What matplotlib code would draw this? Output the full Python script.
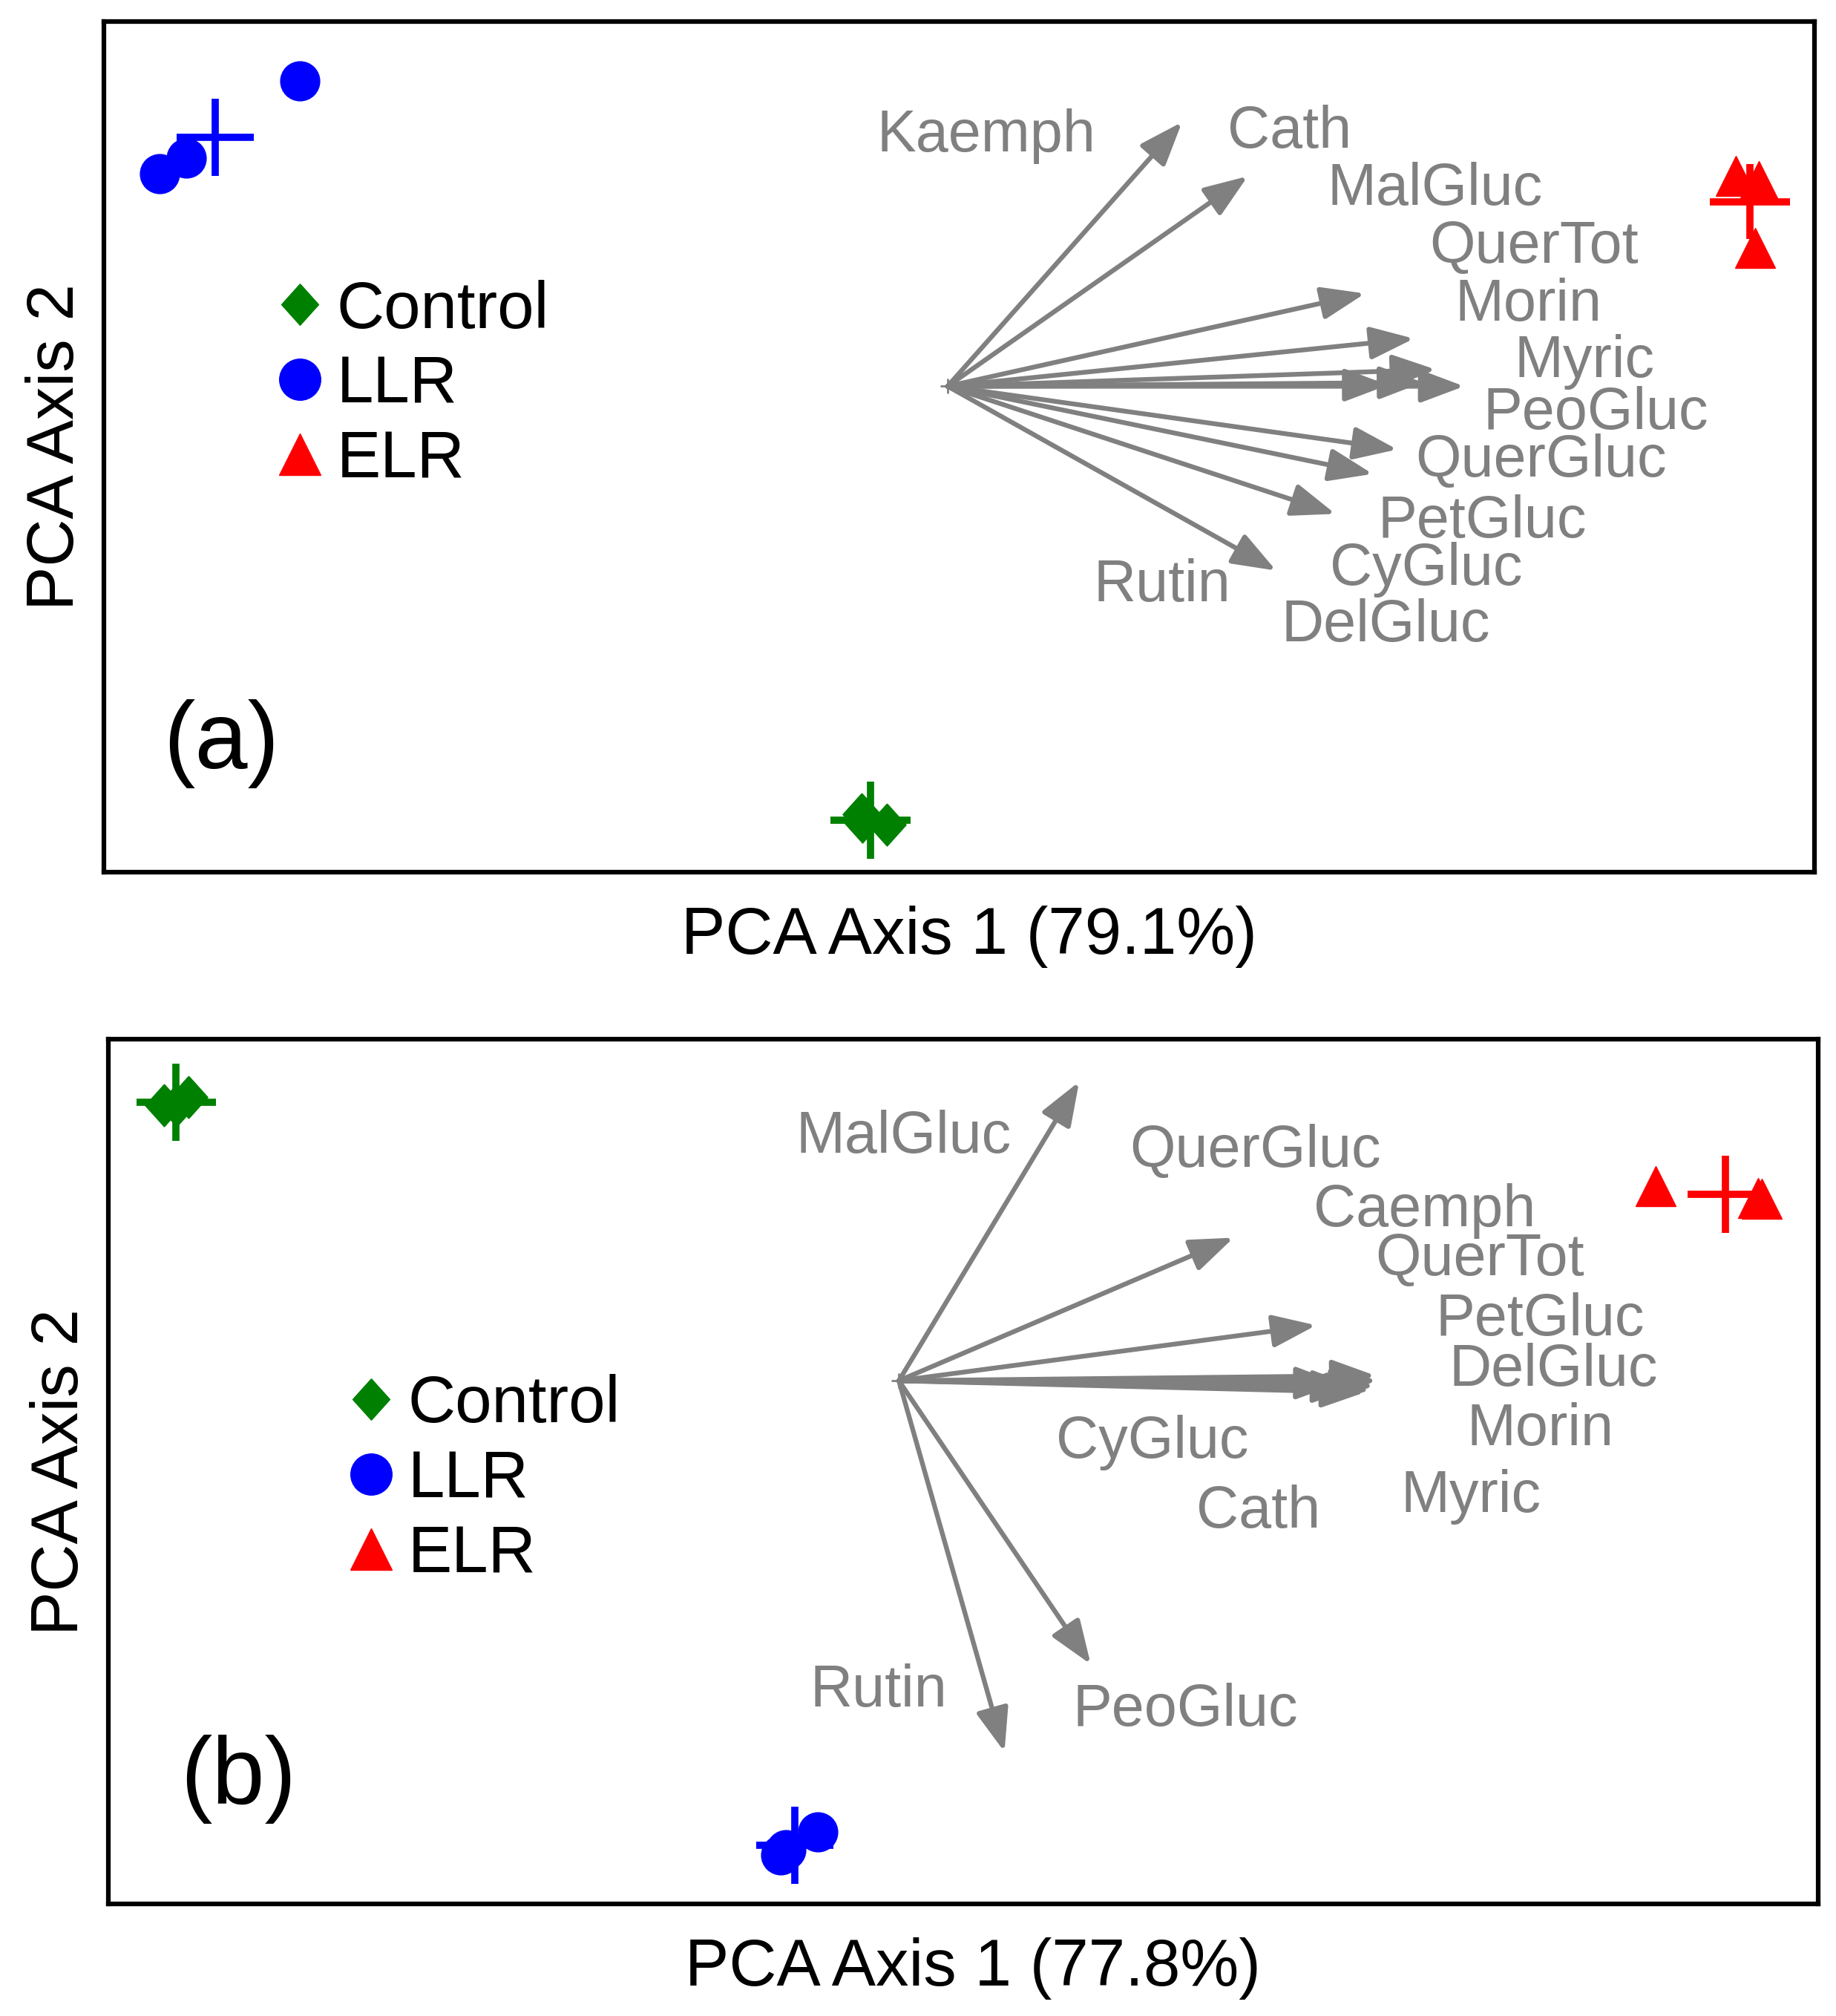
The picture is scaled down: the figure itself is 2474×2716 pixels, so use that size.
import numpy as np
import matplotlib
matplotlib.use("Agg")
import matplotlib.pyplot as plt
from matplotlib.lines import Line2D

plt.rcParams['font.family'] = ['Liberation Sans', 'DejaVu Sans']

# ---------------- data ----------------
groups = ['Control', 'LLR', 'ELR']
group_colors = ['#008000', '#0000FF', '#FF0000']

# Panel (a) scores
a_ctrl_x = [-0.67, -0.66, -0.47]
a_ctrl_y = [-3.32, -3.38, -3.40]
a_llr_x = [-5.03, -5.91, -6.12]
a_llr_y = [2.37, 1.77, 1.65]
a_elr_x = [6.12, 6.30, 6.27]
a_elr_y = [1.63, 1.59, 1.075]
a_err_x = [0.31, 0.30, 0.31]
a_err_y = [0.30, 0.30, 0.29]

# Panel (a) loadings (arrow tips)
a_load_x = [1.82, 2.33, 3.24, 3.62, 3.79, 3.42, 4.01, 3.69, 3.49, 3.30, 3.01, 2.55]
a_load_y = [2.05, 1.63, 0.72, 0.37, 0.13, 0.01, 0.00, 0.03, -0.49, -0.68, -0.99, -1.43]
a_var_names = ['Kaemph', 'Cath', 'MalGluc', 'QuerTot', 'Morin', 'Myric',
               'PeoGluc', 'QuerGluc', 'PetGluc', 'CyGluc', 'DelGluc', 'Rutin']
a_lab_x = [-0.55, 2.17, 2.95, 3.74, 3.94, 4.40, 4.16, 3.63, 3.34, 2.97, 2.59, 1.13]
a_lab_y = [1.82, 1.85, 1.41, 0.96, 0.51, 0.07, -0.33, -0.70, -1.17, -1.54, -1.98, -1.67]

# Panel (b) scores
b_ctrl_x = [-5.71, -5.52, -5.61]
b_ctrl_y = [2.14, 2.20, 2.14]
b_llr_x = [-0.92, -0.88, -0.63]
b_llr_y = [-3.68, -3.64, -3.50]
b_elr_x = [5.88, 6.675, 6.70]
b_elr_y = [1.51, 1.42, 1.41]
b_err_x = [0.31, 0.30, 0.295]
b_err_y = [0.30, 0.30, 0.30]

# Panel (b) loadings (arrow tips)
b_load_x = [1.40, 2.60, 3.24, 3.70, 3.71, 3.69, 3.66, 3.55, 3.42, 3.62, 1.49, 0.82]
b_load_y = [2.32, 1.11, 0.43, 0.04, 0.00, -0.04, -0.07, -0.05, -0.02, -0.09, -2.20, -2.88]
b_var_names = ['MalGluc', 'QuerGluc', 'Caemph', 'QuerTot', 'PetGluc', 'DelGluc',
               'Morin', 'Myric', 'CyGluc', 'Cath', 'PeoGluc', 'Rutin']
b_lab_x = [-0.80, 1.795, 3.22, 3.70, 4.17, 4.27, 4.41, 3.90, 1.22, 2.31, 1.35, -0.69]
b_lab_y = [1.77, 1.66, 1.20, 0.82, 0.35, -0.04, -0.50, -1.02, -0.60, -1.14, -2.68, -2.53]

a_xlabel = 'PCA Axis 1 (79.1%)'
b_xlabel = 'PCA Axis 1 (77.8%)'
ylabel = 'PCA Axis 2'

# ---------------- figure ----------------
fig = plt.figure(figsize=(24.74, 27.16), dpi=100)
ax_a = fig.add_axes([0.0566, 0.5674, 0.9317, 0.4219])
ax_b = fig.add_axes([0.0590, 0.0556, 0.9313, 0.4289])

diamond = [(0, 1), (0.9, 0), (0, -1), (-0.9, 0), (0, 1)]
markers = [diamond, 'o', '^']
msizes = [41, 38, 39]
grey = '#808080'


def draw_panel(ax, pts, errx, erry, lx, ly, names, tx, ty, xlim, ylim,
               xlabel, letter, letter_pos, leg_anchor, xlabel_x):
    # arrows
    for x, y in zip(lx, ly):
        ax.annotate('', xy=(x, y), xytext=(0, 0),
                    arrowprops=dict(arrowstyle='-|>,head_length=3.6,head_width=1.35',
                                    mutation_scale=10, color=grey, lw=4.6,
                                    shrinkA=0, shrinkB=0), zorder=2)
    ax.plot([0], [0], marker='+', color=grey, markersize=14, mew=2, ls='none', zorder=2)
    for name, x, y in zip(names, tx, ty):
        ax.text(x, y, name, color=grey, fontsize=57, ha='left', va='baseline', zorder=3)
    # points
    for i, (px, py) in enumerate(pts):
        ax.plot(px, py, ls='none', marker=markers[i], markersize=msizes[i],
                color=group_colors[i], mec=group_colors[i], zorder=4)
        ax.errorbar(np.mean(px), np.mean(py), xerr=errx[i], yerr=erry[i], fmt='none',
                    ecolor=group_colors[i], elinewidth=7, capsize=0, zorder=5)
    ax.set_xlim(*xlim)
    ax.set_ylim(*ylim)
    ax.set_xticks([])
    ax.set_yticks([])
    for s in ax.spines.values():
        s.set_linewidth(4.5)
        s.set_color('black')
    ax.set_xlabel(xlabel, fontsize=64)
    ax.xaxis.set_label_coords(xlabel_x, -0.039)
    ax.set_ylabel(ylabel, fontsize=64, labelpad=16)
    ax.text(letter_pos[0], letter_pos[1], letter, transform=ax.transAxes,
            fontsize=92, ha='center', va='center')
    handles = [Line2D([], [], ls='none', marker=markers[i], markersize=40,
                      color=group_colors[i]) for i in range(3)]
    ax.legend(handles, groups, loc='center left', bbox_to_anchor=leg_anchor,
              frameon=False, fontsize=64, handlelength=0.6, handletextpad=0.26,
              borderpad=0, labelspacing=0.19, borderaxespad=0)


draw_panel(ax_a,
           [(a_ctrl_x, a_ctrl_y), (a_llr_x, a_llr_y), (a_elr_x, a_elr_y)],
           a_err_x, a_err_y, a_load_x, a_load_y, a_var_names, a_lab_x, a_lab_y,
           (-6.55, 6.73), (-3.77, 2.83), a_xlabel, '(a)', (0.0688, 0.151),
           (0.103, 0.572), 0.506)
draw_panel(ax_b,
           [(b_ctrl_x, b_ctrl_y), (b_llr_x, b_llr_y), (b_elr_x, b_elr_y)],
           b_err_x, b_err_y, b_load_x, b_load_y, b_var_names, b_lab_x, b_lab_y,
           (-6.14, 7.14), (-4.06, 2.65), b_xlabel, '(b)', (0.076, 0.144),
           (0.142, 0.490), 0.5056)

fig.savefig('out.png', dpi=100)
